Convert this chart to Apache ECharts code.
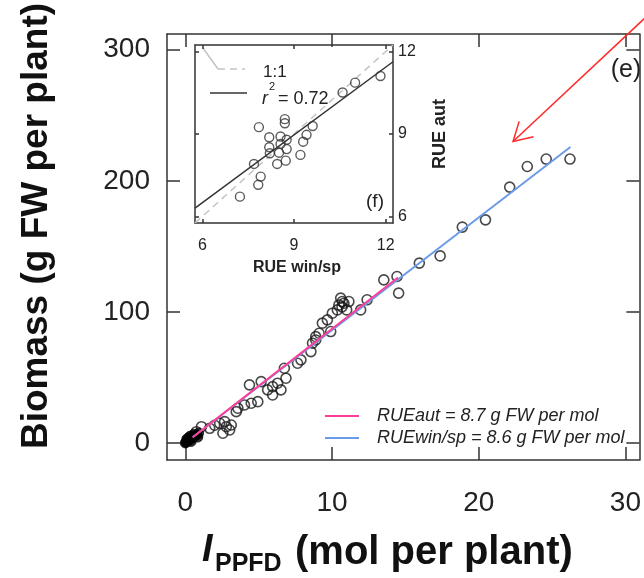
<!DOCTYPE html>
<html>
<head>
<meta charset="utf-8">
<script src="https://cdn.jsdelivr.net/npm/echarts@6/dist/echarts.min.js"></script>
<style>
html, body { margin: 0; padding: 0; background: #fff; }
#chart { width: 644px; height: 578px; }
</style>
</head>
<body>
<div id="chart"></div>
<script>
// panel (e): biomass vs. intercepted light per plant
const earlyPts = [
  [0, 0], [0.05, 0.5], [0.1, 1], [0.15, 1.5], [0.2, 2], [0.3, 2.5],
  [0.35, 3], [0.5, 4], [0.6, 5], [0.75, 6], [0.4, 1.2], [0.2, 3.5],
  [0.9, 7.5], [0.55, 6.5], [0.85, 4.5], [0.3, 5], [0.1, 3]
]
const biomassPts = [
  [0.76, 8.6], [1.10, 12.4], [1.66, 11.2], [2.0, 13.5], [2.34, 15.0], [2.68, 16.3],
  [2.79, 12.4], [3.13, 13.7], [2.56, 7.4], [3.02, 9.9], [3.47, 23.9], [3.58, 26.5],
  [4.03, 29.0], [4.49, 30.3], [4.94, 31.5], [4.37, 44.3], [5.17, 46.8], [5.61, 40.5],
  [5.95, 43.0], [6.29, 45.6], [6.52, 40.5], [5.95, 36.6], [6.86, 49.4], [6.75, 57.0],
  [7.65, 60.8], [7.88, 63.4], [8.56, 69.7], [8.67, 76.1], [8.89, 78.6], [9.12, 83.7],
  [8.89, 81.1], [9.34, 91.4], [9.68, 93.9], [9.91, 85.0], [10.02, 99.0], [10.36, 101.5],
  [10.47, 105.3], [10.59, 110.5], [10.70, 107.9], [10.81, 106.6], [11.15, 107.9],
  [10.68, 103.8], [11.0, 101.5], [11.95, 101.5], [12.39, 109.2], [13.53, 124.4],
  [14.43, 127.0], [14.54, 114.3], [15.95, 137.2], [17.37, 142.7], [18.88, 164.7],
  [20.46, 170.2], [22.11, 195.2], [23.31, 210.9], [24.60, 216.6], [26.22, 216.6]
]
const fitAut = [[0.5, 4.35], [14.5, 126.2]]    // RUEaut = 8.7
const fitWin = [[0.5, 4.3], [26.25, 225.8]]    // RUEwin/sp = 8.6
const arrowPts = [[31.5, 326, 22.34, 230]]     // tail x, tail y, head x, head y
const mainXTicks = [0, 10, 20, 30]
const mainYTicks = [0, 100, 200, 300]

// inset (f): RUE win/sp vs RUE aut
const ruePts = [
  [7.23, 6.72], [7.83, 7.15], [7.91, 7.45], [7.69, 7.91], [7.85, 9.25], [8.19, 8.88],
  [8.19, 8.52], [8.21, 8.30], [8.45, 7.91], [8.73, 8.03], [8.70, 9.54], [8.70, 9.39],
  [8.56, 8.91], [8.56, 8.64], [8.76, 8.79], [8.76, 8.45], [8.51, 8.32], [9.21, 8.24],
  [9.30, 8.72], [9.41, 8.97], [9.61, 9.29], [10.59, 10.51], [11.0, 10.87], [11.83, 11.11]
]
const rueFit = [[5.76, 6.30], [12.24, 11.63]]
const oneToOne = [[5.76, 5.76], [12.24, 12.24]]
const insetTicks = [6, 9, 12]

const FONT = '"Liberation Sans", Arial, sans-serif'
const INK = '#222'

function axis(o) {
  return {
    type: 'value',
    gridIndex: o.grid,
    position: o.pos,
    min: o.min,
    max: o.max,
    splitLine: { show: false },
    axisLine: { show: true, onZero: false, lineStyle: { color: '#333', width: 1.5 } },
    axisTick: { show: true, inside: true, length: o.tick, customValues: o.ticks, lineStyle: { color: '#333', width: 1.5 } },
    axisLabel: o.label ? {
      show: true, customValues: o.ticks, fontSize: o.fs, margin: o.margin,
      color: INK, fontFamily: FONT
    } : { show: false }
  }
}

const myChart = echarts.init(document.getElementById('chart'))

const option = {
  animation: false,
  grid: [
    { left: 167, top: 34, width: 475, height: 426 },
    { left: 195, top: 45, width: 198, height: 178, show: true, backgroundColor: '#fff', borderWidth: 0 }
  ],
  xAxis: [
    axis({ grid: 0, pos: 'bottom', min: -1.25, max: 30.95, tick: 13, ticks: mainXTicks, label: true, fs: 28, margin: 29 }),
    axis({ grid: 0, pos: 'top', min: -1.25, max: 30.95, tick: 13, ticks: mainXTicks, label: false }),
    axis({ grid: 1, pos: 'bottom', min: 5.76, max: 12.24, tick: 4, ticks: insetTicks, label: true, fs: 16, margin: 15 }),
    axis({ grid: 1, pos: 'top', min: 5.76, max: 12.24, tick: 4, ticks: insetTicks, label: false })
  ],
  yAxis: [
    axis({ grid: 0, pos: 'left', min: -13, max: 312, tick: 13, ticks: mainYTicks, label: true, fs: 28, margin: 17 }),
    axis({ grid: 0, pos: 'right', min: -13, max: 312, tick: 13, ticks: mainYTicks, label: false }),
    axis({ grid: 1, pos: 'right', min: 5.76, max: 12.24, tick: 4, ticks: insetTicks, label: true, fs: 16, margin: 5 }),
    axis({ grid: 1, pos: 'left', min: 5.76, max: 12.24, tick: 4, ticks: insetTicks, label: false })
  ],
  series: [
    {
      type: 'scatter', xAxisIndex: 0, yAxisIndex: 0, data: biomassPts,
      symbolSize: 10, itemStyle: { color: 'rgba(0,0,0,0)', borderColor: '#1a1a1a', borderWidth: 1.6 }, z: 3
    },
    {
      type: 'scatter', xAxisIndex: 0, yAxisIndex: 0, data: earlyPts,
      symbolSize: 10, itemStyle: { color: '#000', borderColor: '#000', borderWidth: 1 }, z: 3
    },
    {
      type: 'line', xAxisIndex: 0, yAxisIndex: 0, data: fitWin, symbol: 'none',
      lineStyle: { color: '#6a9be8', width: 2 }, z: 4
    },
    {
      type: 'line', xAxisIndex: 0, yAxisIndex: 0, data: fitAut, symbol: 'none',
      lineStyle: { color: '#ff3d96', width: 2 }, z: 5
    },
    {
      type: 'custom', xAxisIndex: 0, yAxisIndex: 0, data: arrowPts, clip: false, z: 6,
      renderItem: function (params, api) {
        const tail = api.coord([api.value(0), api.value(1)])
        const head = api.coord([api.value(2), api.value(3)])
        const ang = Math.atan2(tail[1] - head[1], tail[0] - head[0])
        const len = 21, spread = Math.PI / 6
        const a1 = [head[0] + len * Math.cos(ang + spread), head[1] + len * Math.sin(ang + spread)]
        const a2 = [head[0] + len * Math.cos(ang - spread), head[1] + len * Math.sin(ang - spread)]
        const st = { stroke: '#ff2a2a', lineWidth: 1.5, fill: 'none' }
        return {
          type: 'group',
          children: [
            { type: 'line', shape: { x1: tail[0], y1: tail[1], x2: head[0], y2: head[1] }, style: st },
            { type: 'polyline', shape: { points: [a1, head, a2] }, style: st }
          ]
        }
      }
    },
    {
      type: 'line', xAxisIndex: 2, yAxisIndex: 2, data: oneToOne, symbol: 'none',
      lineStyle: { color: '#c4c4c4', width: 1.5, type: [7, 5] }, z: 3
    },
    {
      type: 'line', xAxisIndex: 2, yAxisIndex: 2, data: rueFit, symbol: 'none',
      lineStyle: { color: '#333', width: 1.5 }, z: 4
    },
    {
      type: 'scatter', xAxisIndex: 2, yAxisIndex: 2, data: ruePts,
      symbolSize: 9, itemStyle: { color: 'rgba(0,0,0,0)', borderColor: '#333', borderWidth: 1.4 }, z: 5
    }
  ],
  graphic: [
    // axis titles
    { type: 'text', x: 37, y: 226, rotation: Math.PI / 2,
      style: { text: 'Biomass (g FW per plant)', font: 'bold 37px ' + FONT, fill: '#111', textAlign: 'center', textVerticalAlign: 'middle' } },
    { type: 'text', x: 202, y: 551,
      style: { text: 'I', font: 'italic bold 38px ' + FONT, fill: '#111', textAlign: 'left', textVerticalAlign: 'middle' } },
    { type: 'text', x: 215, y: 564,
      style: { text: 'PPFD', font: 'bold 25px ' + FONT, fill: '#111', textAlign: 'left', textVerticalAlign: 'middle' } },
    { type: 'text', x: 295, y: 553,
      style: { text: '(mol per plant)', font: 'bold 40px ' + FONT, fill: '#111', textAlign: 'left', textVerticalAlign: 'middle' } },
    { type: 'text', x: 297, y: 268,
      style: { text: 'RUE win/sp', font: 'bold 16px ' + FONT, fill: INK, textAlign: 'center', textVerticalAlign: 'middle' } },
    { type: 'text', x: 440, y: 134, rotation: Math.PI / 2,
      style: { text: 'RUE aut', font: 'bold 18px ' + FONT, fill: INK, textAlign: 'center', textVerticalAlign: 'middle' } },
    // panel labels
    { type: 'text', x: 626, y: 70,
      style: { text: '(e)', font: '25px ' + FONT, fill: INK, textAlign: 'center', textVerticalAlign: 'middle' } },
    { type: 'text', x: 375, y: 202,
      style: { text: '(f)', font: '19px ' + FONT, fill: INK, textAlign: 'center', textVerticalAlign: 'middle' } },
    // main legend
    { type: 'line', shape: { x1: 325, y1: 416, x2: 359, y2: 416 }, style: { stroke: '#ff3d96', lineWidth: 2 } },
    { type: 'line', shape: { x1: 325, y1: 438, x2: 359, y2: 438 }, style: { stroke: '#6a9be8', lineWidth: 2 } },
    { type: 'text', x: 377, y: 416,
      style: { text: 'RUEaut = 8.7 g FW per mol', font: 'italic 18px ' + FONT, fill: INK, textAlign: 'left', textVerticalAlign: 'middle' } },
    { type: 'text', x: 377, y: 438,
      style: { text: 'RUEwin/sp = 8.6 g FW per mol', font: 'italic 18px ' + FONT, fill: INK, textAlign: 'left', textVerticalAlign: 'middle' } },
    // inset legend
    { type: 'line', shape: { x1: 203, y1: 48, x2: 218, y2: 69 }, style: { stroke: '#c4c4c4', lineWidth: 1.5 } },
    { type: 'line', shape: { x1: 218, y1: 69, x2: 245, y2: 69 }, style: { stroke: '#c4c4c4', lineWidth: 1.5, lineDash: [7, 5] } },
    { type: 'text', x: 263, y: 72,
      style: { text: '1:1', font: '17px ' + FONT, fill: INK, textAlign: 'left', textVerticalAlign: 'middle' } },
    { type: 'line', shape: { x1: 210, y1: 93, x2: 247, y2: 93 }, style: { stroke: '#333', lineWidth: 1.5 } },
    { type: 'text', x: 262, y: 99,
      style: { text: 'r', font: 'italic 18px ' + FONT, fill: INK, textAlign: 'left', textVerticalAlign: 'middle' } },
    { type: 'text', x: 269, y: 87,
      style: { text: '2', font: '11px ' + FONT, fill: INK, textAlign: 'left', textVerticalAlign: 'middle' } },
    { type: 'text', x: 278, y: 99,
      style: { text: '= 0.72', font: '18px ' + FONT, fill: INK, textAlign: 'left', textVerticalAlign: 'middle' } }
  ]
}

myChart.setOption(option)
</script>
</body>
</html>
